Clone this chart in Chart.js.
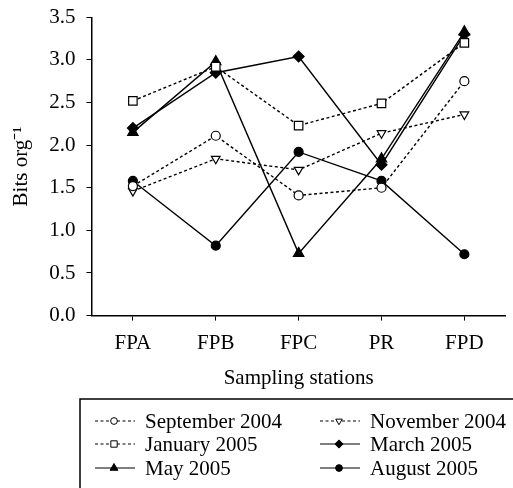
<!DOCTYPE html>
<html>
<head>
<meta charset="utf-8">
<script src="https://cdn.jsdelivr.net/npm/chart.js@4.4.1/dist/chart.umd.min.js"></script>
<style>
  html, body { margin: 0; padding: 0; background: #fff; }
  #wrap { width: 513px; height: 488px; position: relative; }
</style>
</head>
<body>
<div id="wrap"><canvas id="chart"></canvas></div>
<script>
// stations along the x axis
const stations = ['FPA', 'FPB', 'FPC', 'PR', 'FPD'];
const yTicks = [0, 0.5, 1, 1.5, 2, 2.5, 3, 3.5];

// Bits org-1 per sampling campaign
const sep2004 = [1.52, 2.11, 1.41, 1.50, 2.75];
const nov2004 = [1.46, 1.84, 1.71, 2.14, 2.36];
const jan2005 = [2.52, 2.92, 2.23, 2.49, 3.20];
const mar2005 = [2.20, 2.85, 3.04, 1.77, 3.30];
const may2005 = [2.15, 2.98, 0.73, 1.84, 3.33];
const aug2005 = [1.58, 0.82, 1.92, 1.58, 0.72];

const FONT = 'Liberation Serif, Times New Roman, serif';
const toPoints = arr => arr.map((v, i) => ({ x: i, y: v }));

function series(label, values, opts) {
    return Object.assign({
        label: label,
        data: toPoints(values),
        borderColor: '#000',
        borderWidth: 1.4,
        pointBorderColor: '#000',
        pointBorderWidth: 1.2,
        pointRadius: 4.5,
        pointHoverRadius: 4.5,
        fill: false,
        tension: 0
    }, opts);
}

const dotted = [3, 2.5];

const datasets = [
    series('September 2004', sep2004, { borderDash: dotted, pointStyle: 'circle', pointBackgroundColor: '#fff' }),
    series('November 2004', nov2004, { borderDash: dotted, pointStyle: 'triangle', pointRotation: 180, pointRadius: 5, pointBackgroundColor: '#fff' }),
    series('January 2005', jan2005, { borderDash: dotted, pointStyle: 'rect', pointRadius: 6, pointBackgroundColor: '#fff' }),
    series('March 2005', mar2005, { pointStyle: 'rectRot', pointRadius: 5.5, pointBackgroundColor: '#000' }),
    series('May 2005', may2005, { pointStyle: 'triangle', pointRadius: 6, pointBackgroundColor: '#000' }),
    series('August 2005', aug2005, { pointStyle: 'circle', pointRadius: 4.5, pointBackgroundColor: '#000' })
];

// legend box drawn below the axes
const boxLegend = {
    id: 'boxLegend',
    afterDraw(chart) {
        const ctx = chart.ctx;
        const left = 80, top = 399;
        ctx.save();
        ctx.strokeStyle = '#000';
        ctx.lineWidth = 1.5;
        ctx.beginPath();
        ctx.moveTo(left, chart.height);
        ctx.lineTo(left, top);
        ctx.lineTo(chart.width, top);
        ctx.stroke();

        const colX = [95, 320];
        const textX = [145, 370];
        const rowY = [421, 444, 468];
        chart.data.datasets.forEach((ds, i) => {
            const x0 = colX[i % 2];
            const y = rowY[Math.floor(i / 2)];
            ctx.strokeStyle = '#000';
            ctx.lineWidth = 1.2;
            ctx.setLineDash(ds.borderDash || []);
            ctx.beginPath();
            ctx.moveTo(x0, y);
            ctx.lineTo(x0 + 40, y);
            ctx.stroke();
            ctx.setLineDash([]);
            ctx.fillStyle = ds.pointBackgroundColor;
            ctx.lineWidth = 1;
            Chart.helpers.drawPoint(ctx, {
                pointStyle: ds.pointStyle,
                rotation: ds.pointRotation || 0,
                radius: ds.pointRadius * 0.75,
                borderWidth: 1
            }, x0 + 19, y);
            ctx.fillStyle = '#000';
            ctx.font = '21px ' + FONT;
            ctx.textBaseline = 'middle';
            ctx.textAlign = 'left';
            ctx.fillText(ds.label, textX[i % 2], y + 1);
        });
        ctx.restore();
    }
};

new Chart(document.getElementById('chart'), {
    type: 'line',
    data: { datasets: datasets },
    options: {
        responsive: true,
        maintainAspectRatio: false,
        animation: false,
        layout: { padding: { left: 9, right: 5, top: 0, bottom: 97 } },
        plugins: {
            legend: { display: false },
            tooltip: { enabled: false }
        },
        scales: {
            x: {
                type: 'linear',
                min: -0.5,
                max: 4.5,
                afterBuildTicks: scale => { scale.ticks = stations.map((s, i) => ({ value: i })); },
                ticks: {
                    callback: v => stations[v],
                    color: '#000',
                    font: { family: FONT, size: 21 },
                    padding: 10,
                    maxRotation: 0
                },
                grid: { drawOnChartArea: false, drawTicks: true, tickLength: 5, color: '#000', lineWidth: 1 },
                border: { display: true, color: '#000', width: 1.5 },
                title: {
                    display: true,
                    text: 'Sampling stations',
                    color: '#000',
                    font: { family: FONT, size: 21 },
                    padding: { top: 0, bottom: 0 }
                }
            },
            y: {
                min: 0,
                max: 3.5,
                afterBuildTicks: scale => { scale.ticks = yTicks.map(v => ({ value: v })); },
                ticks: {
                    callback: v => v.toFixed(1),
                    color: '#000',
                    font: { family: FONT, size: 21, lineHeight: 0.6 },
                    padding: 11
                },
                grid: { drawOnChartArea: false, drawTicks: true, tickLength: 5, color: '#000', lineWidth: 1 },
                border: { display: true, color: '#000', width: 1.5 },
                title: {
                    display: true,
                    text: 'Bits org⁻¹',
                    color: '#000',
                    font: { family: FONT, size: 21 },
                    padding: { top: 0, bottom: 4 }
                }
            }
        }
    },
    plugins: [boxLegend]
});
</script>
</body>
</html>
